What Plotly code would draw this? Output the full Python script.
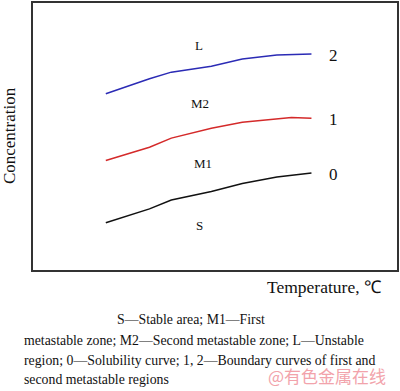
import plotly.graph_objects as go

# Data (temperature in arbitrary units, concentration in arbitrary units)
temp = [20, 32, 38, 49, 57.5, 67, 76.5]
temp_red = [20, 32, 38, 49, 57.5, 67, 71, 76.5]
curve2 = [66.0, 71.6, 74.1, 76.3, 79.0, 80.5, 80.9]          # blue, boundary of 2nd metastable
curve1 = [41.0, 46.0, 49.4, 53.1, 55.3, 56.6, 57.1, 56.8]    # red, boundary of 1st metastable
curve0 = [17.7, 22.9, 26.2, 29.4, 32.4, 34.8, 36.3]          # black, solubility

zone_labels = ["L", "M2", "M1", "S"]
zone_x = [45.5, 46.0, 46.6, 45.8]
zone_y = [84.1, 62.3, 40.0, 16.7]

curve_labels = ["2", "1", "0"]
curve_label_x = [82.5, 82.5, 82.5]
curve_label_y = [80.4, 56.3, 35.9]

caption = [
    "S—Stable area; M1—First",
    "metastable zone; M2—Second metastable zone; L—Unstable",
    "region; 0—Solubility curve; 1, 2—Boundary curves of first and",
    "second metastable regions",
]

W, H = 400, 391
L, R, T, B = 33, 2, 1, 121
PW, PH = W - L - R, H - T - B

def px(x):
    return (x - L) / PW

def py(y):
    return (H - B - y) / PH

serif = "Liberation Serif, Times New Roman, serif"

fig = go.Figure()
fig.add_trace(go.Scatter(x=temp, y=curve2, mode="lines",
                         line=dict(color="#2b2bb5", width=1.5), showlegend=False))
fig.add_trace(go.Scatter(x=temp_red, y=curve1, mode="lines",
                         line=dict(color="#d42a2a", width=1.5), showlegend=False))
fig.add_trace(go.Scatter(x=temp, y=curve0, mode="lines",
                         line=dict(color="#111111", width=1.5), showlegend=False))

ann = []
for t, x, y in zip(zone_labels, zone_x, zone_y):
    ann.append(dict(x=x, y=y, text=t, showarrow=False, xanchor="center", yanchor="middle",
                    font=dict(family=serif, size=13, color="#111")))
for t, x, y in zip(curve_labels, curve_label_x, curve_label_y):
    ann.append(dict(x=x, y=y, text=t, showarrow=False, xanchor="center", yanchor="middle",
                    font=dict(family=serif, size=17, color="#111")))

ann.append(dict(xref="paper", yref="paper", x=px(9), y=py(135), text="Concentration",
                textangle=-90, showarrow=False, xanchor="center", yanchor="middle",
                font=dict(family=serif, size=17, color="#111")))
ann.append(dict(xref="paper", yref="paper", x=px(384), y=py(287), text="Temperature, ℃",
                xanchor="right", yanchor="middle", showarrow=False,
                font=dict(family=serif, size=17.5, color="#111")))

cap_pos = [(115, 320), (22, 341), (22, 361), (22, 380)]
for t, (x, y) in zip(caption, cap_pos):
    ann.append(dict(xref="paper", yref="paper", x=px(x), y=py(y), text=t,
                    xanchor="left", yanchor="middle", showarrow=False,
                    font=dict(family=serif, size=13.8, color="#111")))

ann.append(dict(xref="paper", yref="paper", x=px(389), y=py(376), text="@有色金属在线",
                xanchor="right", yanchor="middle", showarrow=False,
                font=dict(family="Noto Sans CJK SC", size=17, color="#f2a3ab")))

axis = dict(range=[0, 100], showgrid=False, zeroline=False, showticklabels=False,
            ticks="", showline=True, mirror=True, linecolor="#333", linewidth=1.5)

fig.update_layout(
    width=W, height=H,
    margin=dict(l=L, r=R, t=T, b=B),
    paper_bgcolor="white", plot_bgcolor="white",
    xaxis=axis, yaxis=axis,
    annotations=ann,
)

fig.write_html("out.html", config={"displayModeBar": False},
               post_script="document.body.style.margin='0';")
